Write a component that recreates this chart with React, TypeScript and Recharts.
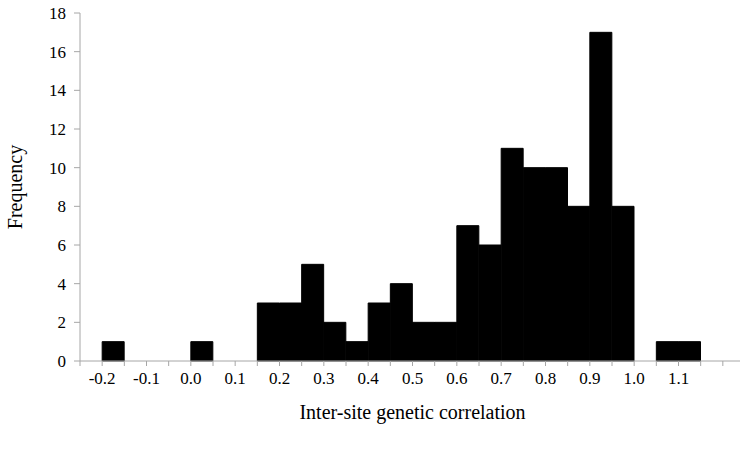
import { BarChart, Bar, XAxis, YAxis } from "recharts";

// left edge of each 0.05-wide bin
const binStarts = [
  -0.25, -0.2, -0.15, -0.1, -0.05, 0.0, 0.05, 0.1, 0.15, 0.2, 0.25, 0.3, 0.35,
  0.4, 0.45, 0.5, 0.55, 0.6, 0.65, 0.7, 0.75, 0.8, 0.85, 0.9, 0.95, 1.0, 1.05,
  1.1, 1.15, 1.2,
];
const frequencies = [
  0, 1, 0, 0, 0, 1, 0, 0, 3, 3, 5, 2, 1, 3, 4, 2, 2, 7, 6, 11, 10, 10, 8, 17,
  8, 0, 1, 1, 0, 0,
];
const binWidth = 0.05;

// tick marks every 0.05, labels only every 0.1
const xTicks = [
  -0.25, -0.2, -0.15, -0.1, -0.05, 0.0, 0.05, 0.1, 0.15, 0.2, 0.25, 0.3, 0.35,
  0.4, 0.45, 0.5, 0.55, 0.6, 0.65, 0.7, 0.75, 0.8, 0.85, 0.9, 0.95, 1.0, 1.05,
  1.1, 1.15, 1.2, 1.25,
];
const xTickLabels = [
  "", "-0.2", "", "-0.1", "", "0.0", "", "0.1", "", "0.2", "", "0.3", "", "0.4",
  "", "0.5", "", "0.6", "", "0.7", "", "0.8", "", "0.9", "", "1.0", "", "1.1",
  "", "", "",
];
const yTicks = [0, 2, 4, 6, 8, 10, 12, 14, 16, 18];

const data = binStarts.map((start, i) => ({
  mid: start + binWidth / 2,
  freq: frequencies[i],
}));

const serif = "'Liberation Serif', 'Times New Roman', serif";
const axisColor = "#a6a6a6";

function XTick({ x, y, payload }: any) {
  const i = xTicks.findIndex((t) => Math.abs(t - payload.value) < 1e-6);
  const text = i >= 0 ? xTickLabels[i] : "";
  if (!text) return null;
  return (
    <text x={x} y={y + 4} dy="0.71em" textAnchor="middle" fill="#000" fontSize={17} fontFamily={serif}>
      {text}
    </text>
  );
}

function YTick({ x, y, payload }: any) {
  return (
    <text x={x - 6} y={y} dy="0.355em" textAnchor="end" fill="#000" fontSize={17} fontFamily={serif}>
      {payload.value}
    </text>
  );
}

export default function App() {
  return (
    <div
      style={{
        position: "absolute",
        left: 0,
        top: 0,
        width: 740,
        height: 451,
        overflow: "hidden",
        background: "#fff",
        fontFamily: serif,
      }}
    >
      <BarChart
        width={750}
        height={451}
        data={data}
        margin={{ top: 13, right: 5, left: 0, bottom: 0 }}
        barCategoryGap={0}
        barGap={0}
      >
        <XAxis
          dataKey="mid"
          type="number"
          domain={[-0.25, 1.25]}
          ticks={xTicks}
          interval={0}
          allowDataOverflow
          stroke={axisColor}
          tickSize={5}
          tick={<XTick />}
          height={90}
          label={{
            value: "Inter-site genetic correlation",
            position: "insideBottom",
            offset: 32,
            fill: "#000",
            fontSize: 20,
            fontFamily: serif,
          }}
        />
        <YAxis
          type="number"
          domain={[0, 18]}
          ticks={yTicks}
          interval={0}
          width={80}
          stroke={axisColor}
          tickSize={6}
          tick={<YTick />}
          label={({ viewBox }: any) => {
            const cy = viewBox.y + viewBox.height / 2;
            return (
              <text
                x={15}
                y={cy}
                transform={`rotate(-90, 15, ${cy})`}
                textAnchor="middle"
                dominantBaseline="central"
                fill="#000"
                fontSize={20}
                fontFamily={serif}
              >
                Frequency
              </text>
            );
          }}
        />
        <Bar
          dataKey="freq"
          fill="#000"
          stroke="#000"
          strokeWidth={1}
          isAnimationActive={false}
        />
      </BarChart>
    </div>
  );
}
